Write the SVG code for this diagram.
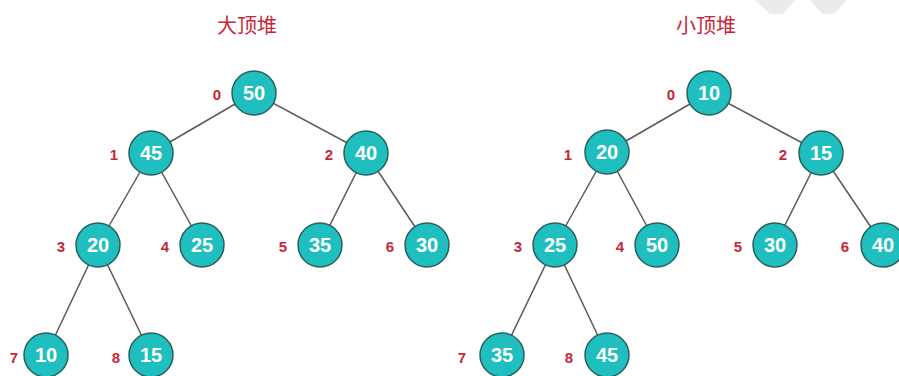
<svg xmlns="http://www.w3.org/2000/svg" width="899" height="376" viewBox="0 0 899 376">
<style>
.title{font-family:"Noto Sans CJK SC","Noto Sans",sans-serif;font-size:20px;font-weight:normal;fill:#c4283a;text-anchor:middle}
.node text.idx{font-family:"Liberation Sans",Arial,sans-serif;font-weight:bold;font-size:15px;fill:#c4283a;text-anchor:middle;dominant-baseline:central}
.node circle{fill:#1fbfbf;stroke:#2c5f5f;stroke-width:1.5}
.node text.val{font-family:"Liberation Sans",Arial,sans-serif;font-weight:bold;font-size:20px;fill:#ffffff;text-anchor:middle;dominant-baseline:central}
.edges line{stroke:#5a5a5a;stroke-width:1.5}
</style>
<rect width="899" height="376" fill="#ffffff"/>
<g id="watermark" fill="#ebebeb">
<polygon points="755,0 795,0 783,14 770,14"/>
<polygon points="810,0 847,0 834,14 822,14"/>
</g>
<text class="title" x="247" y="33">大顶堆</text>
<text class="title" x="706" y="33">小顶堆</text>
<g class="edges" id="connectors">
<line x1="254" y1="93" x2="151" y2="153"/>
<line x1="254" y1="93" x2="366" y2="153"/>
<line x1="151" y1="153" x2="98" y2="245"/>
<line x1="151" y1="153" x2="202" y2="245"/>
<line x1="366" y1="153" x2="320" y2="245"/>
<line x1="366" y1="153" x2="427" y2="245"/>
<line x1="98" y1="245" x2="46" y2="355"/>
<line x1="98" y1="245" x2="151" y2="355"/>
<line x1="709" y1="93" x2="607" y2="152"/>
<line x1="709" y1="93" x2="821" y2="153"/>
<line x1="607" y1="152" x2="555" y2="245"/>
<line x1="607" y1="152" x2="657" y2="245"/>
<line x1="821" y1="153" x2="775" y2="245"/>
<line x1="821" y1="153" x2="883" y2="245"/>
<line x1="555" y1="245" x2="502" y2="355"/>
<line x1="555" y1="245" x2="607" y2="355"/>
</g>
<g id="L0" class="node"><text class="idx" x="217" y="94">0</text><circle cx="254" cy="93" r="22"/><text class="val" x="254" y="93">50</text></g>
<g id="L1" class="node"><text class="idx" x="114" y="154">1</text><circle cx="151" cy="153" r="22"/><text class="val" x="151" y="153">45</text></g>
<g id="L2" class="node"><text class="idx" x="329" y="154">2</text><circle cx="366" cy="153" r="22"/><text class="val" x="366" y="153">40</text></g>
<g id="L3" class="node"><text class="idx" x="61" y="246">3</text><circle cx="98" cy="245" r="22"/><text class="val" x="98" y="245">20</text></g>
<g id="L4" class="node"><text class="idx" x="165" y="246">4</text><circle cx="202" cy="245" r="22"/><text class="val" x="202" y="245">25</text></g>
<g id="L5" class="node"><text class="idx" x="283" y="246">5</text><circle cx="320" cy="245" r="22"/><text class="val" x="320" y="245">35</text></g>
<g id="L6" class="node"><text class="idx" x="390" y="246">6</text><circle cx="427" cy="245" r="22"/><text class="val" x="427" y="245">30</text></g>
<g id="L7" class="node"><text class="idx" x="14" y="357">7</text><circle cx="46" cy="355" r="22"/><text class="val" x="46" y="355">10</text></g>
<g id="L8" class="node"><text class="idx" x="116" y="357">8</text><circle cx="151" cy="355" r="22"/><text class="val" x="151" y="355">15</text></g>
<g id="R0" class="node"><text class="idx" x="671" y="94">0</text><circle cx="709" cy="93" r="22"/><text class="val" x="709" y="93">10</text></g>
<g id="R1" class="node"><text class="idx" x="568" y="154">1</text><circle cx="607" cy="152" r="22"/><text class="val" x="607" y="152">20</text></g>
<g id="R2" class="node"><text class="idx" x="783" y="154">2</text><circle cx="821" cy="153" r="22"/><text class="val" x="821" y="153">15</text></g>
<g id="R3" class="node"><text class="idx" x="518" y="246">3</text><circle cx="555" cy="245" r="22"/><text class="val" x="555" y="245">25</text></g>
<g id="R4" class="node"><text class="idx" x="620" y="246">4</text><circle cx="657" cy="245" r="22"/><text class="val" x="657" y="245">50</text></g>
<g id="R5" class="node"><text class="idx" x="738" y="246">5</text><circle cx="775" cy="245" r="22"/><text class="val" x="775" y="245">30</text></g>
<g id="R6" class="node"><text class="idx" x="845" y="246">6</text><circle cx="883" cy="245" r="22"/><text class="val" x="883" y="245">40</text></g>
<g id="R7" class="node"><text class="idx" x="462" y="357">7</text><circle cx="502" cy="355" r="22"/><text class="val" x="502" y="355">35</text></g>
<g id="R8" class="node"><text class="idx" x="569" y="357">8</text><circle cx="607" cy="355" r="22"/><text class="val" x="607" y="355">45</text></g>
</svg>
